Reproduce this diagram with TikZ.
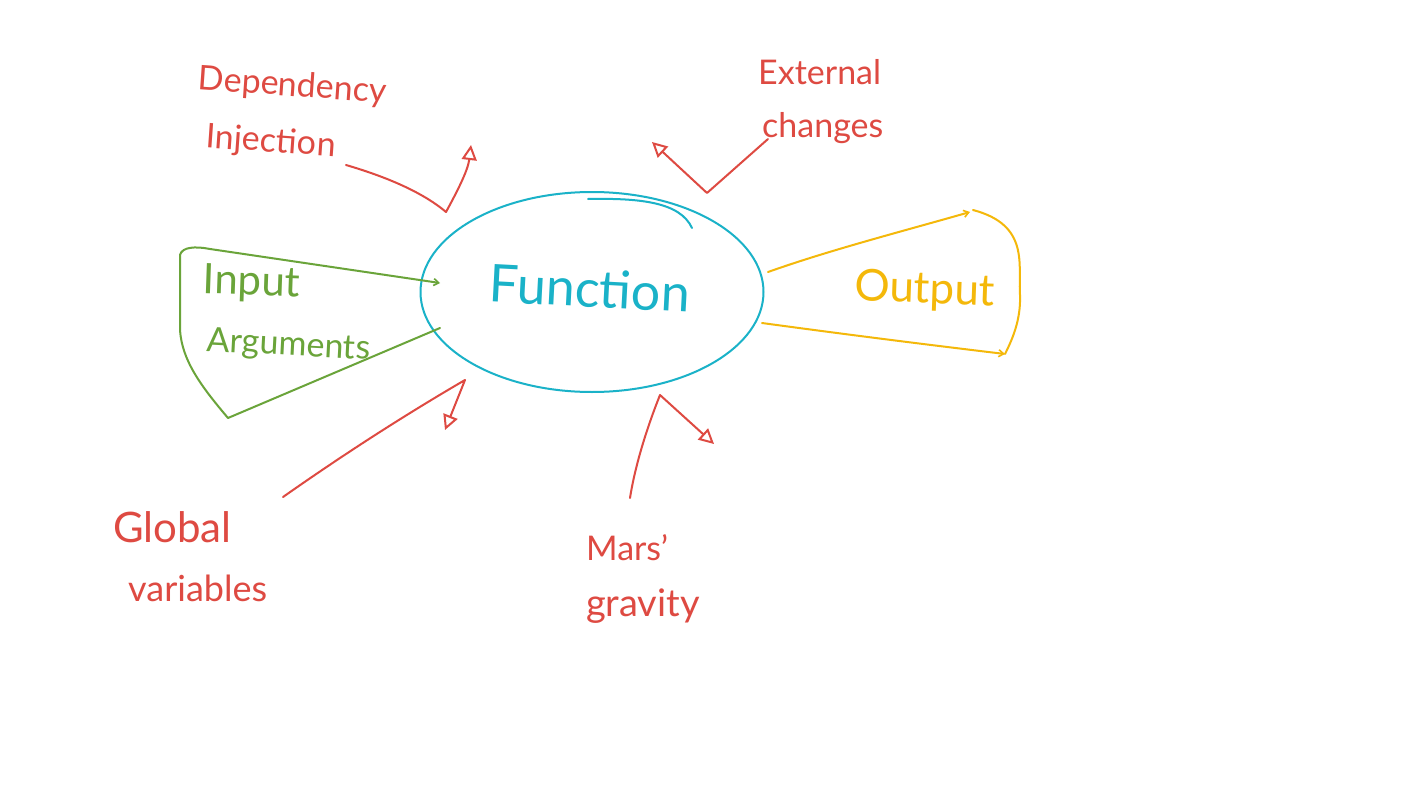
\documentclass[tikz,border=0pt]{standalone}
\usepackage{fontspec}
\setmainfont{Lato}
\usetikzlibrary{shapes.geometric,arrows.meta}
\definecolor{sred}{RGB}{222,74,66}
\definecolor{scyan}{RGB}{26,178,200}
\definecolor{sgreen}{RGB}{106,164,58}
\definecolor{syellow}{RGB}{244,184,10}
\tikzset{
  redline/.style={draw=sred, line width=2pt, line cap=round, line join=round},
  redarrow/.style={redline, -{Triangle[open, length=15pt, width=15pt, line width=2pt]}},
  greenline/.style={draw=sgreen, line width=2pt, line cap=round, line join=round},
  yellowline/.style={draw=syellow, line width=2pt, line cap=round, line join=round},
  barb/.style={-{Straight Barb[length=5pt, width=7pt, line width=1.6pt]}},
  redtext/.style={text=sred, inner sep=0pt, anchor=west},
  lbl/.style={inner sep=0pt},
}
\begin{document}
\begin{tikzpicture}[x=1pt, y=-1pt]
\useasboundingbox (0,0) rectangle (1422,800);
\fill[white] (0,0) rectangle (1422,800);

% Function ellipse
\node[ellipse, draw=scyan, line width=2pt, minimum width=343pt, minimum height=200pt, inner sep=0pt] (fn) at (592,292) {};
\node[lbl, text=scyan, font=\fontsize{52}{60}\selectfont, rotate=-3] (fntext) at (590,288) {Function};
\coordinate (fs1) at (588,199);
\coordinate (fs2) at (692,228);
\draw[draw=scyan, line width=2pt, line cap=round] (fs1) .. controls (640,198) and (680,202) .. (fs2);

% Dependency Injection
\node[redtext, font=\fontsize{34}{40}\selectfont, rotate=-4] (dep) at (198,80) {Dependency};
\node[redtext, font=\fontsize{34}{40}\selectfont, rotate=-4] (inj) at (206,138) {Injection};
\coordinate (di1) at (346,165);
\coordinate (di2) at (446,212);
\coordinate (di3) at (471,145);
\draw[redarrow] (di1) .. controls (380,175) and (420,190) .. (di2) .. controls (458,190) and (468,170) .. (di3);

% External changes
\node[redtext, font=\fontsize{34}{40}\selectfont] (ext) at (758,72) {External};
\node[redtext, font=\fontsize{34}{40}\selectfont] (chg) at (762,128) {changes};
\coordinate (ec1) at (768,139);
\coordinate (ec2) at (707,193);
\coordinate (ec3) at (652,142);
\draw[redarrow] (ec1) -- (ec2) -- (ec3);

% Global variables
\node[redtext, font=\fontsize{42}{50}\selectfont] (glob) at (113,527) {Global};
\node[redtext, font=\fontsize{36}{40}\selectfont] (var) at (128,588) {variables};
\coordinate (gv1) at (283,497);
\coordinate (gv2) at (465,380);
\coordinate (gv3) at (445,430);
\draw[redarrow] (gv1) .. controls (350,450) and (410,412) .. (gv2) -- (gv3);

% Mars' gravity
\node[redtext, font=\fontsize{34}{40}\selectfont] (mars) at (586,548) {Mars'};
\node[redtext, font=\fontsize{38}{40}\selectfont] (grav) at (586,606) {gravity};
\coordinate (mg1) at (630,498);
\coordinate (mg2) at (660,395);
\coordinate (mg3) at (714,444);
\draw[redarrow] (mg1) .. controls (636,460) and (650,420) .. (mg2) -- (mg3);

% Input Arguments
\node[lbl, anchor=west, text=sgreen, font=\fontsize{42}{46}\selectfont, rotate=-2] (inp) at (203,282) {Input};
\node[lbl, anchor=west, text=sgreen, font=\fontsize{34}{38}\selectfont, rotate=-3] (args) at (207,342) {Arguments};
\coordinate (ia1) at (440,328);
\coordinate (ia2) at (228,418);
\coordinate (ia3) at (180,255);
\coordinate (ia4) at (440,283);
\draw[greenline, barb] (ia1) -- (ia2) .. controls (200,385) and (182,360) .. (180,330)
  -- (ia3) .. controls (182,247) and (195,246) .. (210,249) -- (ia4);

% Output
\node[lbl, text=syellow, font=\fontsize{44}{50}\selectfont, rotate=-2] (out) at (925,291) {Output};
\coordinate (oa1) at (768,272);
\coordinate (oa2) at (970,212);
\coordinate (oa3) at (973,210);
\coordinate (oa4) at (1005,354);
\coordinate (oa5) at (762,323);
\draw[yellowline, barb] (oa1) .. controls (830,250) and (900,232) .. (oa2);
\draw[yellowline] (oa3) .. controls (1030,225) and (1018,265) .. (1020,295) .. controls (1021,320) and (1012,340) .. (oa4);
\draw[yellowline, barb] (oa5) .. controls (850,335) and (930,345) .. (oa4);
\end{tikzpicture}
\end{document}
